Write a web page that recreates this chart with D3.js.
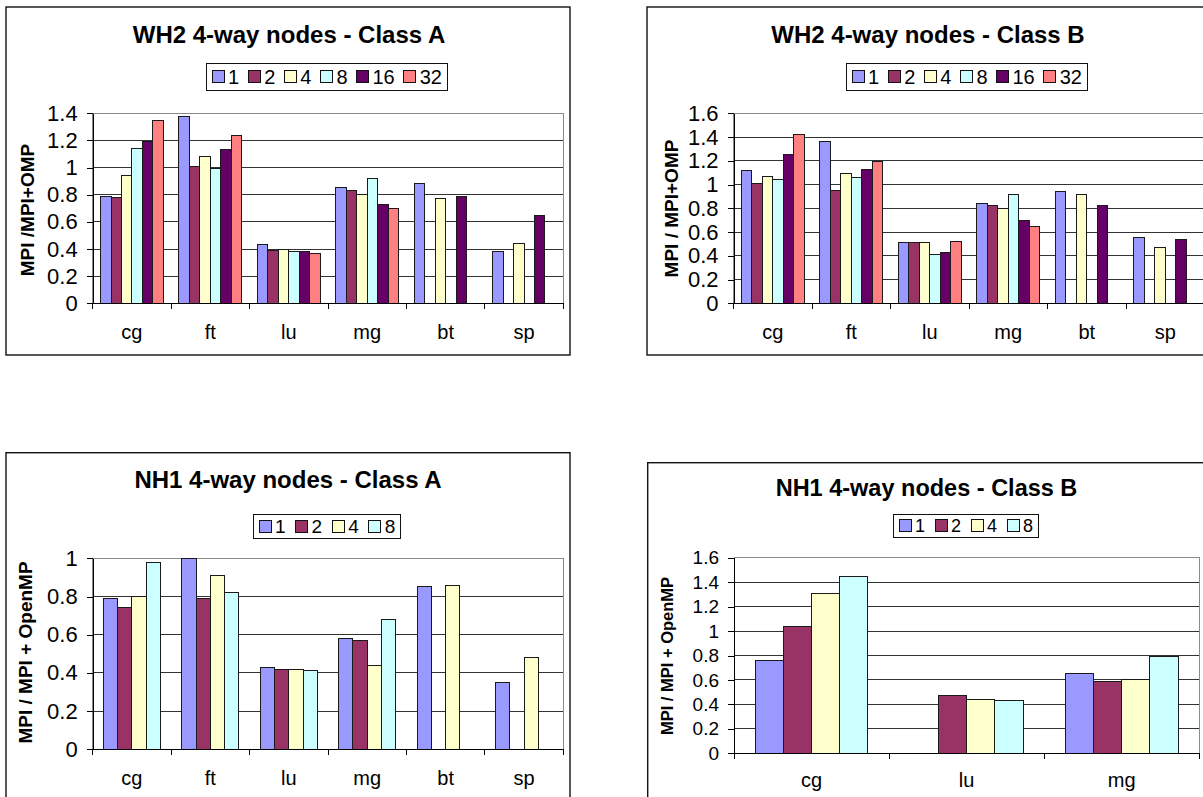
<!DOCTYPE html>
<html><head><meta charset="utf-8">
<script src="https://cdn.jsdelivr.net/npm/d3@7"></script>
<style>body{margin:0;background:#fff}svg{display:block}</style>
</head><body>
<svg id="chart" width="1203" height="797"></svg>
<script>
// ---------------- data ----------------
const wh2Categories = ["cg", "ft", "lu", "mg", "bt", "sp"];
const wh2Series = ["1", "2", "4", "8", "16", "32"];
// WH2 4-way nodes - Class A
const wh2A_1  = [0.79, 1.38, 0.43, 0.85, 0.88, 0.38];
const wh2A_2  = [0.78, 1.01, 0.39, 0.83, null, null];
const wh2A_4  = [0.94, 1.08, 0.40, 0.80, 0.77, 0.44];
const wh2A_8  = [1.14, 0.99, 0.38, 0.92, null, null];
const wh2A_16 = [1.19, 1.13, 0.38, 0.73, 0.79, 0.65];
const wh2A_32 = [1.35, 1.24, 0.37, 0.70, null, null];
// WH2 4-way nodes - Class B
const wh2B_1  = [1.12, 1.36, 0.51, 0.84, 0.94, 0.55];
const wh2B_2  = [1.01, 0.95, 0.51, 0.82, null, null];
const wh2B_4  = [1.07, 1.09, 0.51, 0.80, 0.92, 0.47];
const wh2B_8  = [1.04, 1.06, 0.41, 0.92, null, null];
const wh2B_16 = [1.25, 1.13, 0.43, 0.70, 0.82, 0.54];
const wh2B_32 = [1.42, 1.19, 0.52, 0.65, null, null];
// NH1 4-way nodes - Class A
const nh1ACategories = ["cg", "ft", "lu", "mg", "bt", "sp"];
const nh1Series = ["1", "2", "4", "8"];
const nh1A_1 = [0.79, 1.00, 0.43, 0.58, 0.85, 0.35];
const nh1A_2 = [0.74, 0.79, 0.42, 0.57, null, null];
const nh1A_4 = [0.80, 0.91, 0.42, 0.44, 0.86, 0.48];
const nh1A_8 = [0.98, 0.82, 0.41, 0.68, null, null];
// NH1 4-way nodes - Class B
const nh1BCategories = ["cg", "lu", "mg"];
const nh1B_1 = [0.76, null, 0.65];
const nh1B_2 = [1.04, 0.47, 0.59];
const nh1B_4 = [1.31, 0.44, 0.60];
const nh1B_8 = [1.45, 0.43, 0.79];

const seriesColors = ["#9999FF", "#993366", "#FFFFCC", "#CCFFFF", "#660066", "#FF8080"];

const ticks14 = [0, 0.2, 0.4, 0.6, 0.8, 1.0, 1.2, 1.4];
const tickLabels14 = ["0", "0.2", "0.4", "0.6", "0.8", "1", "1.2", "1.4"];
const ticks16 = [0, 0.2, 0.4, 0.6, 0.8, 1.0, 1.2, 1.4, 1.6];
const tickLabels16 = ["0", "0.2", "0.4", "0.6", "0.8", "1", "1.2", "1.4", "1.6"];
const ticks10 = [0, 0.2, 0.4, 0.6, 0.8, 1.0];
const tickLabels10 = ["0", "0.2", "0.4", "0.6", "0.8", "1"];

// ---------------- drawing ----------------
const FONT = "'Liberation Sans', Arial, Helvetica, sans-serif";
const svg = d3.select("#chart");
svg.append("rect").attr("width", 1203).attr("height", 797).attr("fill", "#fff");

function drawPanel(cfg) {
  const g = svg.append("g");
  const P = cfg.plot;
  // chart frame
  g.append("rect")
    .attr("x", cfg.frame.x).attr("y", cfg.frame.y)
    .attr("width", cfg.frame.w).attr("height", cfg.frame.h)
    .attr("fill", "#fff").attr("stroke", "#111").attr("stroke-width", 1.4);

  const y = d3.scaleLinear().domain([0, cfg.yMax]).range([P.yBot, P.yTop]);
  const x0 = d3.scaleBand().domain(cfg.categories).range([P.x0, P.x1]).padding(0);
  const x1 = d3.scaleBand().domain(cfg.series).range([0, x0.bandwidth()])
    .paddingInner(0).paddingOuter(0.75);

  // plot-area border
  g.append("rect")
    .attr("x", P.x0).attr("y", y(cfg.yMax))
    .attr("width", P.x1 - P.x0).attr("height", y(0) - y(cfg.yMax))
    .attr("fill", "none").attr("stroke", "#8a8a8a").attr("stroke-width", 1)
    .attr("shape-rendering", "crispEdges");

  // gridlines
  g.append("g").selectAll("line")
    .data(cfg.yTicks.filter(d => d > 0))
    .join("line")
    .attr("x1", P.x0).attr("x2", P.x1)
    .attr("y1", d => y(d)).attr("y2", d => y(d))
    .attr("stroke", d => d === cfg.yMax ? "#8a8a8a" : "#333").attr("stroke-width", 1)
    .attr("shape-rendering", "crispEdges");

  // bars
  const barData = [];
  cfg.values.forEach((arr, si) => {
    arr.forEach((v, ci) => {
      if (v !== null && v !== undefined) {
        barData.push({ cat: cfg.categories[ci], ser: cfg.series[si], v: v, color: seriesColors[si] });
      }
    });
  });
  g.append("g").selectAll("rect")
    .data(barData)
    .join("rect")
    .attr("x", d => x0(d.cat) + x1(d.ser))
    .attr("y", d => y(d.v))
    .attr("width", x1.bandwidth())
    .attr("height", d => y(0) - y(d.v))
    .attr("fill", d => d.color)
    .attr("stroke", "#1a1a1a").attr("stroke-width", 1)
    .attr("shape-rendering", "crispEdges");

  // y axis
  const yAxis = g.append("g")
    .attr("transform", `translate(${P.x0},0)`)
    .call(d3.axisLeft(y).tickValues(cfg.yTicks)
      .tickFormat((d, i) => cfg.tickLabels[i])
      .tickSize(6).tickSizeOuter(0).tickPadding(cfg.tickPad));
  yAxis.select(".domain").attr("stroke", "#000").attr("shape-rendering", "crispEdges");
  yAxis.selectAll(".tick line").attr("stroke", "#000").attr("shape-rendering", "crispEdges");
  yAxis.selectAll("text").attr("font-family", FONT).attr("font-size", cfg.tickFont).attr("fill", "#000");

  // x axis
  const xAxis = g.append("g")
    .attr("transform", `translate(0,${P.yBot})`)
    .call(d3.axisBottom(x0).tickSize(0).tickSizeOuter(0));
  xAxis.select(".domain").attr("stroke", "#000").attr("shape-rendering", "crispEdges");
  xAxis.selectAll("text")
    .attr("y", cfg.catDy).attr("dy", null)
    .attr("font-family", FONT).attr("font-size", cfg.catFont).attr("fill", "#000");
  const bounds = cfg.categories.map(c => x0(c)).concat([P.x1]);
  g.append("g").selectAll("line")
    .data(bounds)
    .join("line")
    .attr("x1", d => d).attr("x2", d => d)
    .attr("y1", P.yBot).attr("y2", P.yBot + 6)
    .attr("stroke", "#000").attr("shape-rendering", "crispEdges");

  // title
  g.append("text")
    .attr("x", cfg.title.x).attr("y", cfg.title.y)
    .attr("text-anchor", "middle")
    .attr("font-family", FONT).attr("font-weight", "bold")
    .attr("font-size", cfg.title.size)
    .text(cfg.title.text);

  // y axis title
  g.append("text")
    .attr("transform", `translate(${cfg.yTitle.x},${cfg.yTitle.y}) rotate(-90)`)
    .attr("text-anchor", "middle")
    .attr("font-family", FONT).attr("font-weight", "bold")
    .attr("font-size", cfg.yTitle.size)
    .text(cfg.yTitle.text);

  // legend
  const L = cfg.legend;
  const lg = g.append("g").attr("transform", `translate(${L.x},${L.y})`);
  const box = lg.append("rect")
    .attr("x", 0).attr("y", 0).attr("height", L.h)
    .attr("fill", "#fff").attr("stroke", "#111").attr("stroke-width", 1)
    .attr("shape-rendering", "crispEdges");
  let cx = L.pad;
  const sw = 12;
  cfg.series.forEach((s, i) => {
    lg.append("rect")
      .attr("x", cx).attr("y", (L.h - sw) / 2)
      .attr("width", sw).attr("height", sw)
      .attr("fill", seriesColors[i]).attr("stroke", "#111").attr("stroke-width", 1)
      .attr("shape-rendering", "crispEdges");
    const t = lg.append("text")
      .attr("x", cx + sw + L.gapText).attr("y", L.h / 2 + L.font * 0.36)
      .attr("font-family", FONT).attr("font-size", L.font)
      .text(s);
    cx += sw + L.gapText + t.node().getComputedTextLength() + L.gapItem;
  });
  box.attr("width", cx - L.gapItem + L.padR);
}

drawPanel({
  frame: { x: 6, y: 7, w: 564, h: 348 },
  plot: { x0: 92.7, x1: 563.3, yTop: 113.3, yBot: 303.3 },
  yMax: 1.4, yTicks: ticks14, tickLabels: tickLabels14,
  categories: wh2Categories, series: wh2Series,
  values: [wh2A_1, wh2A_2, wh2A_4, wh2A_8, wh2A_16, wh2A_32],
  title: { x: 289, y: 42.7, size: 24, text: "WH2 4-way nodes - Class A" },
  yTitle: { x: 34, y: 210, size: 19, text: "MPI /MPI+OMP" },
  legend: { x: 206, y: 63, h: 27, font: 20, pad: 6, padR: 5, gapText: 4, gapItem: 9 },
  tickFont: 22, tickPad: 9, catFont: 20, catDy: 36
});

drawPanel({
  frame: { x: 647, y: 7, w: 564, h: 348 },
  plot: { x0: 733.5, x1: 1204.5, yTop: 113.3, yBot: 303.3 },
  yMax: 1.6, yTicks: ticks16, tickLabels: tickLabels16,
  categories: wh2Categories, series: wh2Series,
  values: [wh2B_1, wh2B_2, wh2B_4, wh2B_8, wh2B_16, wh2B_32],
  title: { x: 928, y: 42.7, size: 24, text: "WH2 4-way nodes - Class B" },
  yTitle: { x: 678, y: 208.5, size: 19, text: "MPI / MPI+OMP" },
  legend: { x: 846, y: 63, h: 27, font: 20, pad: 6, padR: 5, gapText: 4, gapItem: 9 },
  tickFont: 22, tickPad: 9, catFont: 20, catDy: 36
});

drawPanel({
  frame: { x: 6, y: 452.7, w: 564, h: 360 },
  plot: { x0: 92.7, x1: 563.3, yTop: 558.3, yBot: 749.3 },
  yMax: 1.0, yTicks: ticks10, tickLabels: tickLabels10,
  categories: nh1ACategories, series: nh1Series,
  values: [nh1A_1, nh1A_2, nh1A_4, nh1A_8],
  title: { x: 288, y: 487.7, size: 24, text: "NH1 4-way nodes - Class A" },
  yTitle: { x: 32, y: 652.5, size: 19, text: "MPI / MPI + OpenMP" },
  legend: { x: 253, y: 514, h: 24, font: 19, pad: 6, padR: 5, gapText: 4, gapItem: 10 },
  tickFont: 22, tickPad: 9, catFont: 20, catDy: 36
});

drawPanel({
  frame: { x: 647.7, y: 462.7, w: 564, h: 350 },
  plot: { x0: 734, x1: 1199.3, yTop: 557.7, yBot: 753.3 },
  yMax: 1.6, yTicks: ticks16, tickLabels: tickLabels16,
  categories: nh1BCategories, series: nh1Series,
  values: [nh1B_1, nh1B_2, nh1B_4, nh1B_8],
  title: { x: 926.5, y: 496, size: 23.5, text: "NH1 4-way nodes - Class B" },
  yTitle: { x: 673, y: 656, size: 16.5, text: "MPI / MPI + OpenMP" },
  legend: { x: 893, y: 514, h: 23.5, font: 18, pad: 6, padR: 5, gapText: 4, gapItem: 10 },
  tickFont: 19, tickPad: 9, catFont: 20, catDy: 33.5
});
</script>
</body></html>
